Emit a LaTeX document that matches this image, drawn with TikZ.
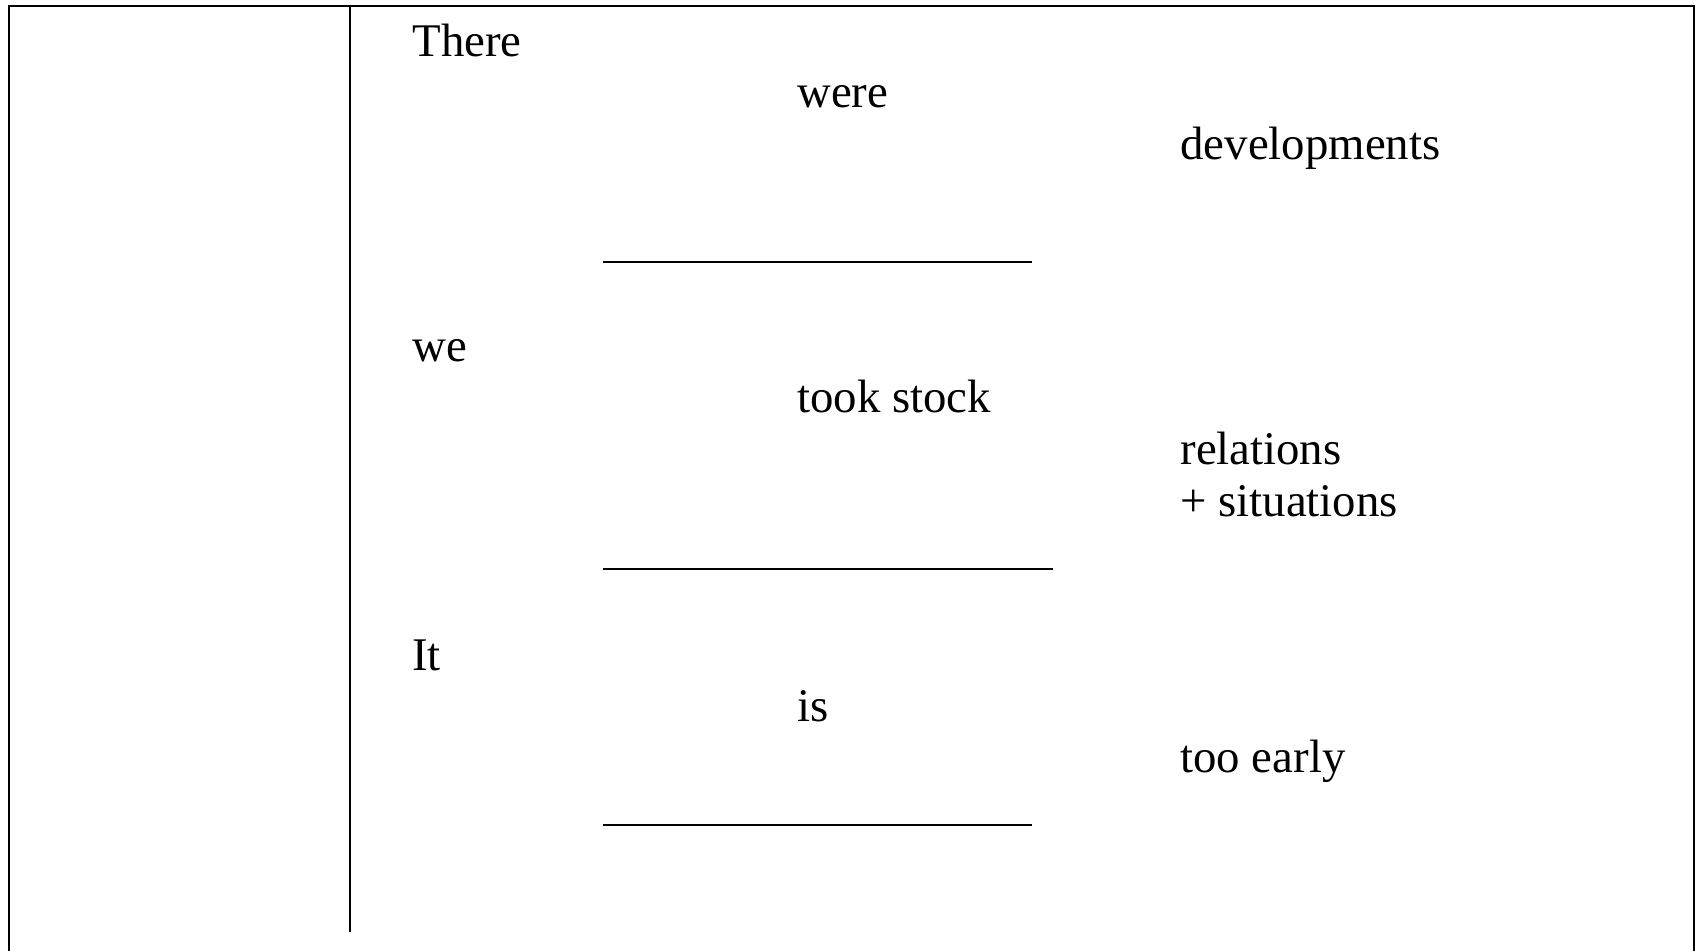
\documentclass[tikz,border=0pt]{standalone}
\usepackage{fontspec}
\setmainfont{Liberation Serif}
\begin{document}
\begin{tikzpicture}[x=0.5pt,y=-0.5pt,
  word/.style={anchor=base west,inner sep=0pt,font=\fontsize{23.4pt}{28pt}\selectfont},
  frameline/.style={line width=1pt,black},
  blankline/.style={line width=0.9pt,black}]
\useasboundingbox (0,0) rectangle (1700,951);
% frame (open at the bottom)
\coordinate (fbl) at (9,951);
\coordinate (ftl) at (9,6);
\coordinate (ftr) at (1694,6);
\coordinate (fbr) at (1694,951);
\draw[frameline] (fbl) -- (ftl) -- (ftr) -- (fbr);
% divider
\coordinate (dtop) at (350,6);
\coordinate (dbot) at (350,932);
\draw[frameline] (dtop) -- (dbot);
% block 1
\node[word] (there) at (412,57) {There};
\node[word] (were) at (797,108) {were};
\node[word] (dev) at (1180,160) {developments};
\coordinate (l1a) at (603,262);
\coordinate (l1b) at (1032,262);
\draw[blankline] (l1a) -- (l1b);
% block 2
\node[word] (we) at (412,362) {we};
\node[word] (took) at (797,413) {took stock};
\node[word] (rel) at (1180,465) {relations};
\node[word] (sit) at (1180,516) {+ situations};
\coordinate (l2a) at (603,569);
\coordinate (l2b) at (1053,569);
\draw[blankline] (l2a) -- (l2b);
% block 3
\node[word] (it) at (412,670) {It};
\node[word] (is) at (797,721) {is};
\node[word] (early) at (1180,772) {too early};
\coordinate (l3a) at (603,825);
\coordinate (l3b) at (1032,825);
\draw[blankline] (l3a) -- (l3b);
\end{tikzpicture}
\end{document}
